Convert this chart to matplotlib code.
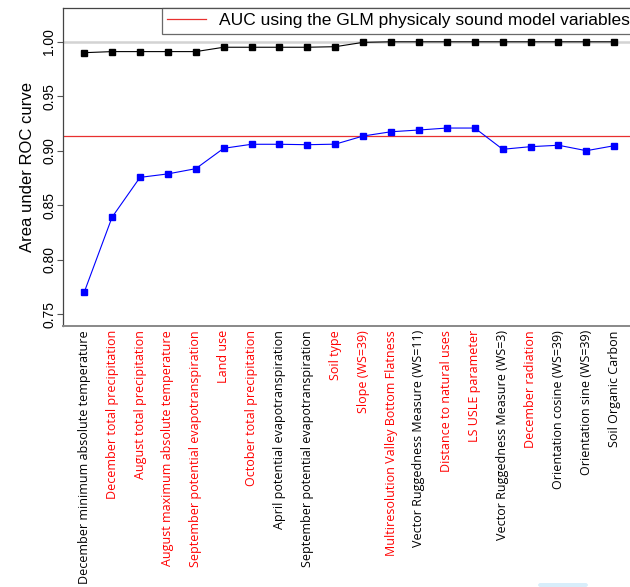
"""AUC of the GLM when adding variables one by one (blue) vs training AUC (black)."""
import matplotlib
matplotlib.use("Agg")
import matplotlib.pyplot as plt
from matplotlib.patches import FancyBboxPatch

variables = [
    "December minimum absolute temperature",
    "December total precipitation",
    "August total precipitation",
    "August maximum absolute temperature",
    "September potential evapotranspiration",
    "Land use",
    "October total precipitation",
    "April potential evapotranspiration",
    "September potential evapotranspiration",
    "Soil type",
    "Slope (WS=39)",
    "Multiresolution Valley Bottom Flatness",
    "Vector Ruggedness Measure (WS=11)",
    "Distance to natural uses",
    "LS USLE parameter",
    "Vector Ruggedness Measure (WS=3)",
    "December radiation",
    "Orientation cosine (WS=39)",
    "Orientation sine (WS=39)",
    "Soil Organic Carbon",
]
# variables that belong to the physically sound model (drawn in red)
physical = [False, True, True, True, True, True, True, False, False, True,
            True, True, False, True, True, False, True, False, False, False]

auc_train = [0.990, 0.991, 0.991, 0.991, 0.991, 0.995, 0.995, 0.995, 0.995, 0.9955,
             0.9995, 1.0, 1.0, 1.0, 1.0, 1.0, 1.0, 1.0, 1.0, 1.0]
auc_test = [0.770, 0.839, 0.8755, 0.8787, 0.8835, 0.9022, 0.9059, 0.9059, 0.9055, 0.906,
            0.9135, 0.9174, 0.919, 0.9208, 0.9208, 0.9013, 0.9037, 0.905, 0.900, 0.9046]
auc_glm_physical = 0.9132

plt.rcParams["font.family"] = ["Liberation Sans", "DejaVu Sans"]

fig = plt.figure(figsize=(6.3, 5.87), dpi=100)
ax = fig.add_axes([0.1, 0.4446, 0.9087, 0.5417])

x = list(range(len(variables)))
ax.axhline(1.0, color="#d3d3d3", lw=1.8, zorder=0)
ax.axhline(auc_glm_physical, color="#e8302f", lw=0.9, zorder=1)
ax.plot(x, auc_train, "-s", color="black", lw=0.8, ms=4, zorder=3)
ax.plot(x, auc_test, "-s", color="#0000ff", lw=0.8, ms=4.5, zorder=3)

ax.set_xlim(-0.76, len(variables) - 1 + 0.76)
ax.set_ylim(0.739, 1.031)
ax.set_yticks([0.75, 0.80, 0.85, 0.90, 0.95, 1.00])
ax.set_yticklabels(["0.75", "0.80", "0.85", "0.90", "0.95", "1.00"],
                   rotation=90, va="center", fontsize=10)
ax.tick_params(axis="y", length=4, width=0.8, color="#555555", pad=1)
ax.set_ylabel("Area under ROC curve", fontsize=12, labelpad=5)

ax.set_xticks(x)
ax.set_xticklabels(variables, rotation=90, fontsize=9, family="Open Sans")
ax.tick_params(axis="x", length=0, pad=3)
for lab, red in zip(ax.get_xticklabels(), physical):
    lab.set_color("red" if red else "black")

for side in ["left", "top"]:
    ax.spines[side].set_color("#444444")
    ax.spines[side].set_linewidth(0.9)
ax.spines["bottom"].set_color("#888888")
ax.spines["bottom"].set_linewidth(1.4)
ax.spines["right"].set_visible(False)

leg = ax.legend([plt.Line2D([], [], color="#e8302f", lw=0.9)],
                ["AUC using the GLM physicaly sound model variables"],
                loc="upper right", bbox_to_anchor=(1.0, 1.0), borderaxespad=0,
                fontsize=12.5, frameon=True, fancybox=False, handlelength=2.2,
                handletextpad=0.8, borderpad=0.3)
leg.get_frame().set_edgecolor("#444444")
leg.get_frame().set_linewidth(0.9)

# faint blue mark at the bottom edge of the original image
fig.patches.append(FancyBboxPatch((538 / 630, 0.0), 50 / 630, 4 / 587,
                                  boxstyle="round,pad=0,rounding_size=0.004",
                                  transform=fig.transFigure, color="#d8eefb",
                                  lw=0, figure=fig))

fig.savefig("out.png", dpi=100)
